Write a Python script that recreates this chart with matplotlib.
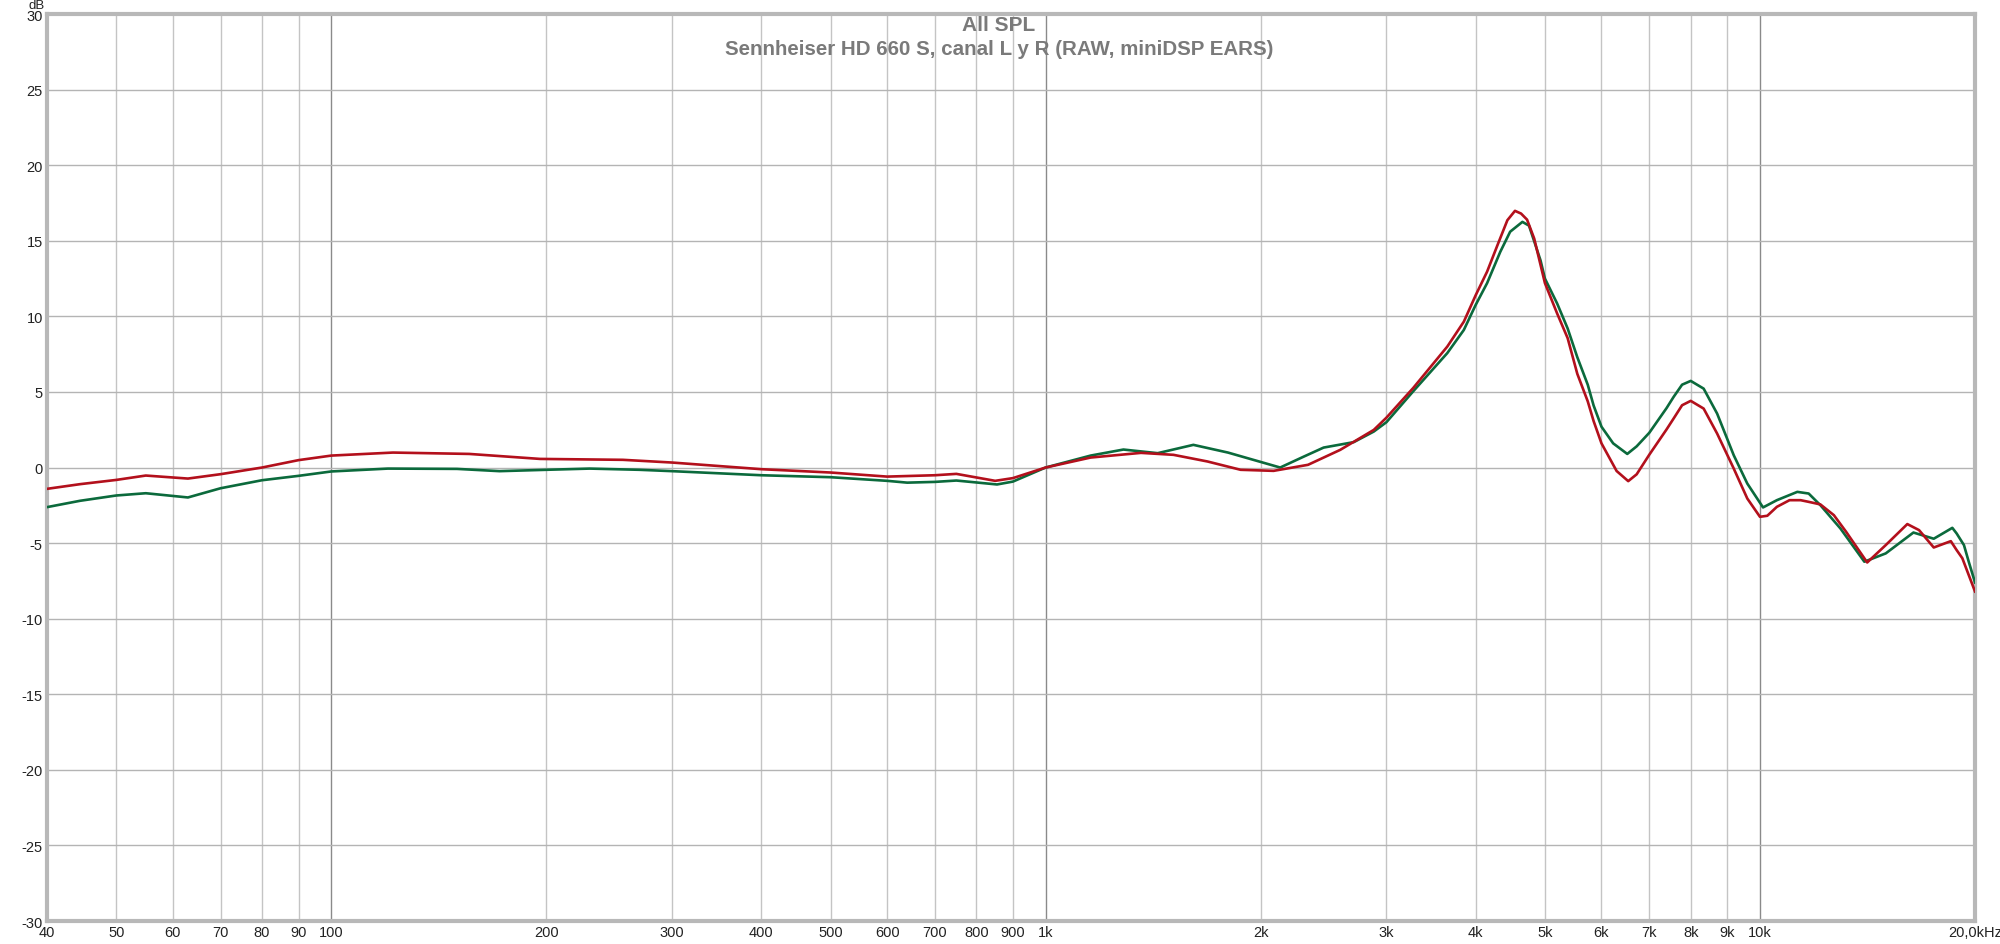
import matplotlib
matplotlib.use("Agg")
import matplotlib.pyplot as plt
from matplotlib.ticker import FixedLocator, NullFormatter, NullLocator

# Data: (frequency Hz, level dB)
left_ch = [(40, -1.41), (44.5, -1.1), (50, -0.82), (55, -0.53), (63, -0.73),
           (70, -0.44), (80, 0.0), (90, 0.49), (100, 0.79), (122, 0.99),
           (156, 0.9), (196, 0.57), (256, 0.51), (300, 0.33), (400, -0.11),
           (500, -0.33), (600, -0.6), (700, -0.51), (750, -0.42), (850, -0.88),
           (900, -0.7), (1000, 0.0), (1156, 0.66), (1360, 0.97), (1510, 0.84),
           (1685, 0.4), (1875, -0.15), (2085, -0.22), (2330, 0.18), (2585, 1.17),
           (2880, 2.49), (3000, 3.3), (3270, 5.26), (3650, 8.0), (3850, 9.65),
           (4000, 11.4), (4150, 12.96), (4290, 14.7), (4430, 16.36), (4540, 16.98),
           (4630, 16.8), (4720, 16.4), (4830, 15.15), (5000, 12.2), (5200, 10.2),
           (5380, 8.56), (5550, 6.2), (5740, 4.38), (5850, 3.07), (6000, 1.6),
           (6300, -0.23), (6540, -0.9), (6720, -0.45), (7000, 0.85), (7400, 2.52),
           (7570, 3.24), (7780, 4.12), (8000, 4.41), (8340, 3.9), (8710, 2.25),
           (9190, -0.07), (9600, -2.05), (10000, -3.26), (10240, -3.19),
           (10560, -2.6), (11000, -2.16), (11400, -2.16), (11700, -2.27),
           (12150, -2.44), (12690, -3.15), (13200, -4.25), (14130, -6.28),
           (15000, -5.13), (16080, -3.74), (16700, -4.14), (17510, -5.29),
           (18500, -4.87), (18850, -5.46), (19200, -6.0), (20000, -8.2)]

right_ch = [(40, -2.62), (44.5, -2.2), (50, -1.85), (55, -1.7), (63, -1.98),
            (70, -1.37), (80, -0.84), (90, -0.55), (100, -0.26), (120, -0.07),
            (150, -0.09), (172, -0.24), (200, -0.15), (230, -0.07), (270, -0.15),
            (300, -0.24), (400, -0.51), (500, -0.64), (600, -0.88), (640, -1.0),
            (700, -0.95), (750, -0.86), (855, -1.12), (900, -0.93), (1000, 0.0),
            (1156, 0.79), (1285, 1.19), (1435, 0.95), (1610, 1.5), (1800, 0.99),
            (2130, 0.0), (2300, 0.73), (2450, 1.32), (2700, 1.68), (2880, 2.38),
            (3000, 3.0), (3270, 5.04), (3650, 7.57), (3850, 9.1), (4000, 10.76),
            (4150, 12.2), (4330, 14.27), (4470, 15.6), (4650, 16.25), (4750, 16.0),
            (4930, 13.7), (5000, 12.5), (5200, 10.86), (5380, 9.2), (5550, 7.3),
            (5740, 5.48), (5850, 4.1), (6000, 2.7), (6230, 1.6), (6520, 0.9),
            (6720, 1.4), (7000, 2.3), (7400, 3.93), (7570, 4.67), (7780, 5.48),
            (8000, 5.73), (8340, 5.22), (8710, 3.57), (9190, 0.81), (9600, -1.06),
            (10100, -2.64), (10560, -2.16), (11280, -1.61), (11700, -1.72),
            (12150, -2.49), (12960, -4.03), (14000, -6.23), (15000, -5.68),
            (16400, -4.3), (17510, -4.71), (18590, -3.99), (18850, -4.36),
            (19300, -5.13), (19600, -6.23), (20000, -7.6)]

x_ticks = [40, 50, 60, 70, 80, 90, 100, 200, 300, 400, 500, 600, 700, 800, 900,
           1000, 2000, 3000, 4000, 5000, 6000, 7000, 8000, 9000, 10000, 20000]
x_labels = ['40', '50', '60', '70', '80', '90', '100', '200', '300', '400', '500',
            '600', '700', '800', '900', '1k', '2k', '3k', '4k', '5k', '6k', '7k',
            '8k', '9k', '10k', '20,0kHz']
y_ticks = list(range(-30, 31, 5))
decades = [100, 1000, 10000]

fl, dl = zip(*left_ch)
fr, dr = zip(*right_ch)

fig = plt.figure(figsize=(20, 9.45), dpi=100)
ax = fig.add_axes([0.0235, 0.0243, 0.964, 0.9598])
ax.set_xscale('log')
ax.set_xlim(40, 20000)
ax.set_ylim(-30, 30)

# grid
for f in x_ticks[1:-1]:
    if f in decades:
        ax.axvline(f, color='#8a8a8a', lw=1.0, zorder=1)
    else:
        ax.axvline(f, color='#c4c4c4', lw=1.0, zorder=1)
for y in y_ticks[1:-1]:
    ax.axhline(y, color='#b4b4b4', lw=1.0, zorder=1)

ax.plot(fr, dr, color='#0b6a3c', lw=1.9, zorder=3, solid_joinstyle='round')
ax.plot(fl, dl, color='#b3101c', lw=1.9, zorder=4, solid_joinstyle='round')

ax.xaxis.set_major_locator(FixedLocator(x_ticks))
ax.xaxis.set_minor_locator(NullLocator())
ax.xaxis.set_minor_formatter(NullFormatter())
ax.set_xticklabels(x_labels)
ax.set_yticks(y_ticks)
ax.set_yticklabels([str(v) for v in y_ticks])
ax.tick_params(axis='both', length=0, labelsize=10.5, colors='#222222')
ax.tick_params(axis='x', pad=3)
ax.tick_params(axis='y', pad=3)
for lab in ax.get_xticklabels() + ax.get_yticklabels():
    lab.set_family('Liberation Sans')

for sp in ax.spines.values():
    sp.set_color('#b8b8b8')
    sp.set_linewidth(3)

fig.text(0.0185, 1.0, 'dB', ha='center', va='top', fontsize=9.5,
         family='Liberation Sans', color='#222222')

fig.text(0.4995, 0.9735, 'All SPL', ha='center', va='center', fontsize=15,
         weight='bold', family='Liberation Sans', color='#7a7a7a')
fig.text(0.4995, 0.948, 'Sennheiser HD 660 S, canal L y R (RAW, miniDSP EARS)',
         ha='center', va='center', fontsize=14.8, weight='bold',
         family='Liberation Sans', color='#7a7a7a')

fig.savefig('out.png', dpi=100)
